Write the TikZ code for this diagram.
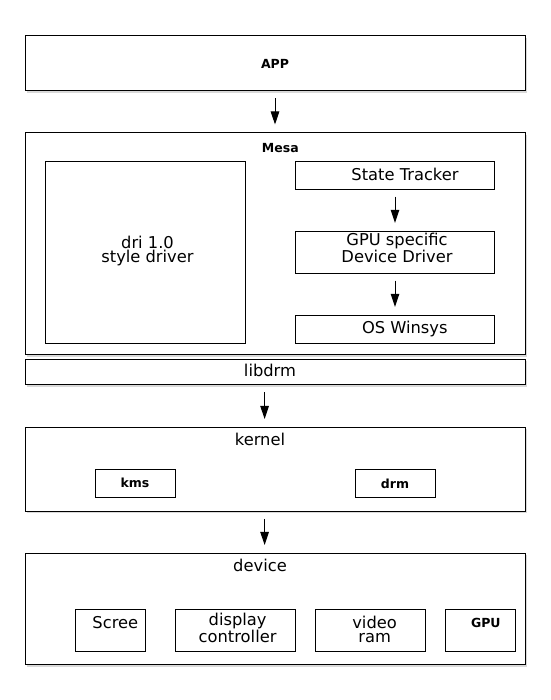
\documentclass[tikz,border=0pt]{standalone}
\usepackage{fontspec}
\setmainfont{DejaVu Sans}
\usetikzlibrary{positioning,shadows,arrows.meta}
\tikzset{
  layer/.style={draw, rectangle, fill=white, line width=1pt, inner sep=0pt, minimum width=500pt,
    drop shadow={shadow xshift=1.6pt, shadow yshift=-1.6pt, opacity=.3}},
  part/.style={draw, rectangle, fill=white, line width=0.9pt, inner sep=0pt},
  txt/.style={font=\fontsize{16.3}{14}\selectfont, anchor=base, inner sep=0pt, align=center},
  tag/.style={font=\bfseries\fontsize{12.5}{13}\selectfont, anchor=base, inner sep=0pt},
  flow/.style={-{Triangle[length=13pt,width=8.5pt]}, line width=1pt, shorten <=7pt, shorten >=8pt}
}
\begin{document}
\begin{tikzpicture}
\useasboundingbox (0,0) rectangle (550pt,700pt);
\node (app) [layer, minimum height=55pt] at (275pt,636.5pt) {};
\node (mesa) [layer, minimum height=222pt, below of=app, node distance=180.5pt] {};
\node (libdrm) [layer, minimum height=25.5pt, below of=mesa, node distance=128.25pt] {};
\node (kernel) [layer, minimum height=84pt, below of=libdrm, node distance=97.25pt] {};
\node (device) [layer, minimum height=111.5pt, below of=kernel, node distance=139.75pt] {};
% mesa inside
\node (dri) [part, minimum width=200pt, minimum height=182pt] at ([shift={(-129.5pt,-8pt)}]mesa.center) {};
\node (tracker) [part, minimum width=199.5pt, minimum height=28pt] at ([shift={(120pt,68.7pt)}]mesa.center) {};
\node (gpudrv) [part, minimum width=199.5pt, minimum height=42pt, below of=tracker, node distance=77pt] {};
\node (winsys) [part, minimum width=199.5pt, minimum height=28pt, below of=gpudrv, node distance=77pt] {};
% kernel inside
\node (kms) [part, minimum width=80pt, minimum height=28pt] at ([shift={(-140pt,-13.8pt)}]kernel.center) {};
\node (drm) [part, minimum width=80pt, minimum height=28pt, right of=kms, node distance=260pt] {};
% device inside
\node (screen) [part, minimum width=70pt, minimum height=42pt] at ([shift={(-164.5pt,-21pt)}]device.center) {};
\node (dispctl) [part, minimum width=120pt, minimum height=42pt, right of=screen, node distance=124.9pt] {};
\node (vram) [part, minimum width=110pt, minimum height=42pt, right of=dispctl, node distance=134.6pt] {};
\node (gpu) [part, minimum width=70pt, minimum height=42pt, right of=vram, node distance=110pt] {};
% texts
\node (appname) [tag] at ([shift={(0pt,-4.8pt)}]app.center) {APP};
\node (mesaname) [tag] at ([shift={(5.3pt,91.3pt)}]mesa.center) {Mesa};
\node (driname) [txt] at ([shift={(2pt,-10.3pt)}]dri.center) {dri 1.0\\style driver};
\node (trackername) [txt] at ([shift={(10pt,-5.4pt)}]tracker.center) {State Tracker};
\node (gpudrvname) [txt] at ([shift={(2pt,-10pt)}]gpudrv.center) {GPU specific\\Device Driver};
\node (winsysname) [txt] at ([shift={(9.8pt,-4.7pt)}]winsys.center) {OS Winsys};
\node (libdrmname) [txt] at ([shift={(-5pt,-4.45pt)}]libdrm.center) {libdrm};
\node (kernelname) [txt] at ([shift={(-15pt,23.5pt)}]kernel.center) {kernel};
\node (kmsname) [tag] at ([shift={(0pt,-4.4pt)}]kms.center) {kms};
\node (drmname) [tag] at ([shift={(0pt,-5pt)}]drm.center) {drm};
\node (devicename) [txt] at ([shift={(-15pt,37.25pt)}]device.center) {device};
\node (screenname) [txt] at ([shift={(4.8pt,2pt)}]screen.center) {Scree};
\node (dispctlname) [txt] at ([shift={(2.2pt,-12pt)}]dispctl.center) {display\\controller};
\node (vramname) [txt] at ([shift={(4.6pt,-12pt)}]vram.center) {video\\ram};
\node (gpuname) [tag] at ([shift={(5.8pt,2.6pt)}]gpu.center) {GPU};
% arrows
\draw [flow] (app) -- (mesa);
\draw [flow] (tracker) -- (gpudrv);
\draw [flow] (gpudrv) -- (winsys);
\draw [flow] ([xshift=-10.4pt]libdrm.south) -- ([xshift=-10.4pt]kernel.north);
\draw [flow] ([xshift=-10.4pt]kernel.south) -- ([xshift=-10.4pt]device.north);
\end{tikzpicture}
\end{document}
